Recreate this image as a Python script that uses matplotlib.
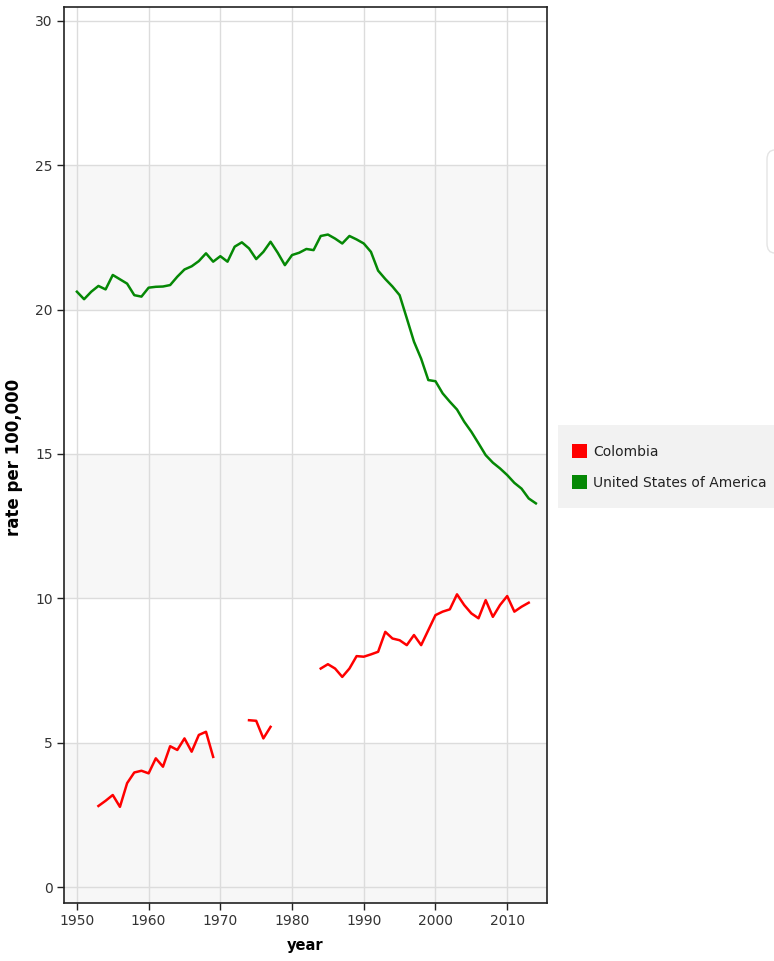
import numpy as np
import matplotlib
matplotlib.use("Agg")
import matplotlib.pyplot as plt
from matplotlib.patches import Patch, Rectangle, FancyBboxPatch

years = list(range(1950, 2015))
usa = [20.62, 20.36, 20.62, 20.82, 20.70, 21.20, 21.05, 20.90, 20.50, 20.45,
       20.76, 20.79, 20.80, 20.85, 21.14, 21.39, 21.50, 21.68, 21.95, 21.66,
       21.85, 21.66, 22.18, 22.33, 22.12, 21.75, 22.00, 22.35, 21.97, 21.54,
       21.89, 21.97, 22.10, 22.06, 22.55, 22.60, 22.46, 22.29, 22.55, 22.43,
       22.29, 22.00, 21.35, 21.06, 20.80, 20.50, 19.70, 18.89, 18.30, 17.56,
       17.52, 17.10, 16.81, 16.54, 16.12, 15.77, 15.37, 14.96, 14.70, 14.50,
       14.27, 14.00, 13.80, 13.46, 13.29]
nan = np.nan
colombia = [nan, nan, nan, 2.81, 2.99, 3.19, 2.78, 3.60, 3.97, 4.03,
            3.94, 4.46, 4.17, 4.88, 4.75, 5.15, 4.69, 5.27, 5.38, 4.51,
            nan, nan, nan, nan, 5.78, 5.76, 5.15, 5.55, nan, nan,
            nan, nan, nan, nan, 7.57, 7.72, 7.57, 7.28, 7.57, 8.00,
            7.98, 8.06, 8.15, 8.84, 8.61, 8.55, 8.38, 8.73, 8.38, 8.90,
            9.42, 9.54, 9.62, 10.14, 9.77, 9.48, 9.31, 9.94, 9.36, 9.77,
            10.08, 9.54, 9.71, 9.85, nan]
series_names = ["Colombia", "United States of America"]
series_colors = ["#ff0000", "#058805"]
yticks = [0, 5, 10, 15, 20, 25, 30]
xticks = [1950, 1960, 1970, 1980, 1990, 2000, 2010]

W, H = 774, 961
fig = plt.figure(figsize=(W / 100, H / 100), dpi=100)
fig.patch.set_facecolor("white")
ax = fig.add_axes([64 / W, 1 - 903 / H, (547 - 64) / W, (903 - 7) / H])

ax.set_xlim(1948.2, 2015.55)
ax.set_ylim(-0.55, 30.48)

# alternating bands
for i in range(len(yticks) - 1):
    if i % 2 == 0:
        ax.axhspan(yticks[i] - (0.55 if i == 0 else 0), yticks[i + 1],
                   color="#f7f7f7", zorder=0, lw=0)

ax.set_xticks(xticks)
ax.set_yticks(yticks)
ax.grid(True, color="#dcdcdc", lw=1.0, zorder=1)
ax.set_axisbelow(True)

for vals, name, col in zip([colombia, usa], series_names, series_colors):
    ax.plot(years, vals, color=col, lw=1.8, label=name, zorder=3,
            solid_joinstyle="round")

for s in ax.spines.values():
    s.set_color("#222222")
    s.set_linewidth(1.2)
ax.tick_params(direction="out", length=5, width=1, color="#222222",
               labelsize=10, labelcolor="#333333", pad=3)
ax.set_xlabel("year", fontsize=10.5, fontweight="bold", labelpad=7)
ax.set_ylabel("rate per 100,000", fontsize=12, fontweight="bold")
ax.yaxis.set_label_coords(23 / W, 1 - 457 / H, transform=fig.transFigure)

# legend background
fig.patches.append(Rectangle((558 / W, 1 - 508 / H), (W - 558) / W, 83 / H,
                             transform=fig.transFigure, facecolor="#f2f2f2",
                             edgecolor="none", zorder=0))
# faint panel edge at top right
fig.patches.append(FancyBboxPatch((767 / W, 1 - 253 / H), 30 / W, 103 / H,
                                  boxstyle="round,pad=0,rounding_size=0.01",
                                  transform=fig.transFigure, facecolor="white",
                                  edgecolor="#e4e4e4", lw=1.0, zorder=0))

handles = [Patch(facecolor=c, edgecolor="none") for c in series_colors]
fig.legend(handles, series_names, loc="upper left",
           bbox_to_anchor=(572 / W, 1 - 444 / H), frameon=False,
           fontsize=10, handlelength=1.05, handleheight=1.2, handletextpad=0.45,
           labelspacing=1.15, borderpad=0, borderaxespad=0,
           labelcolor="#222222")

fig.savefig("out.png", dpi=100)
